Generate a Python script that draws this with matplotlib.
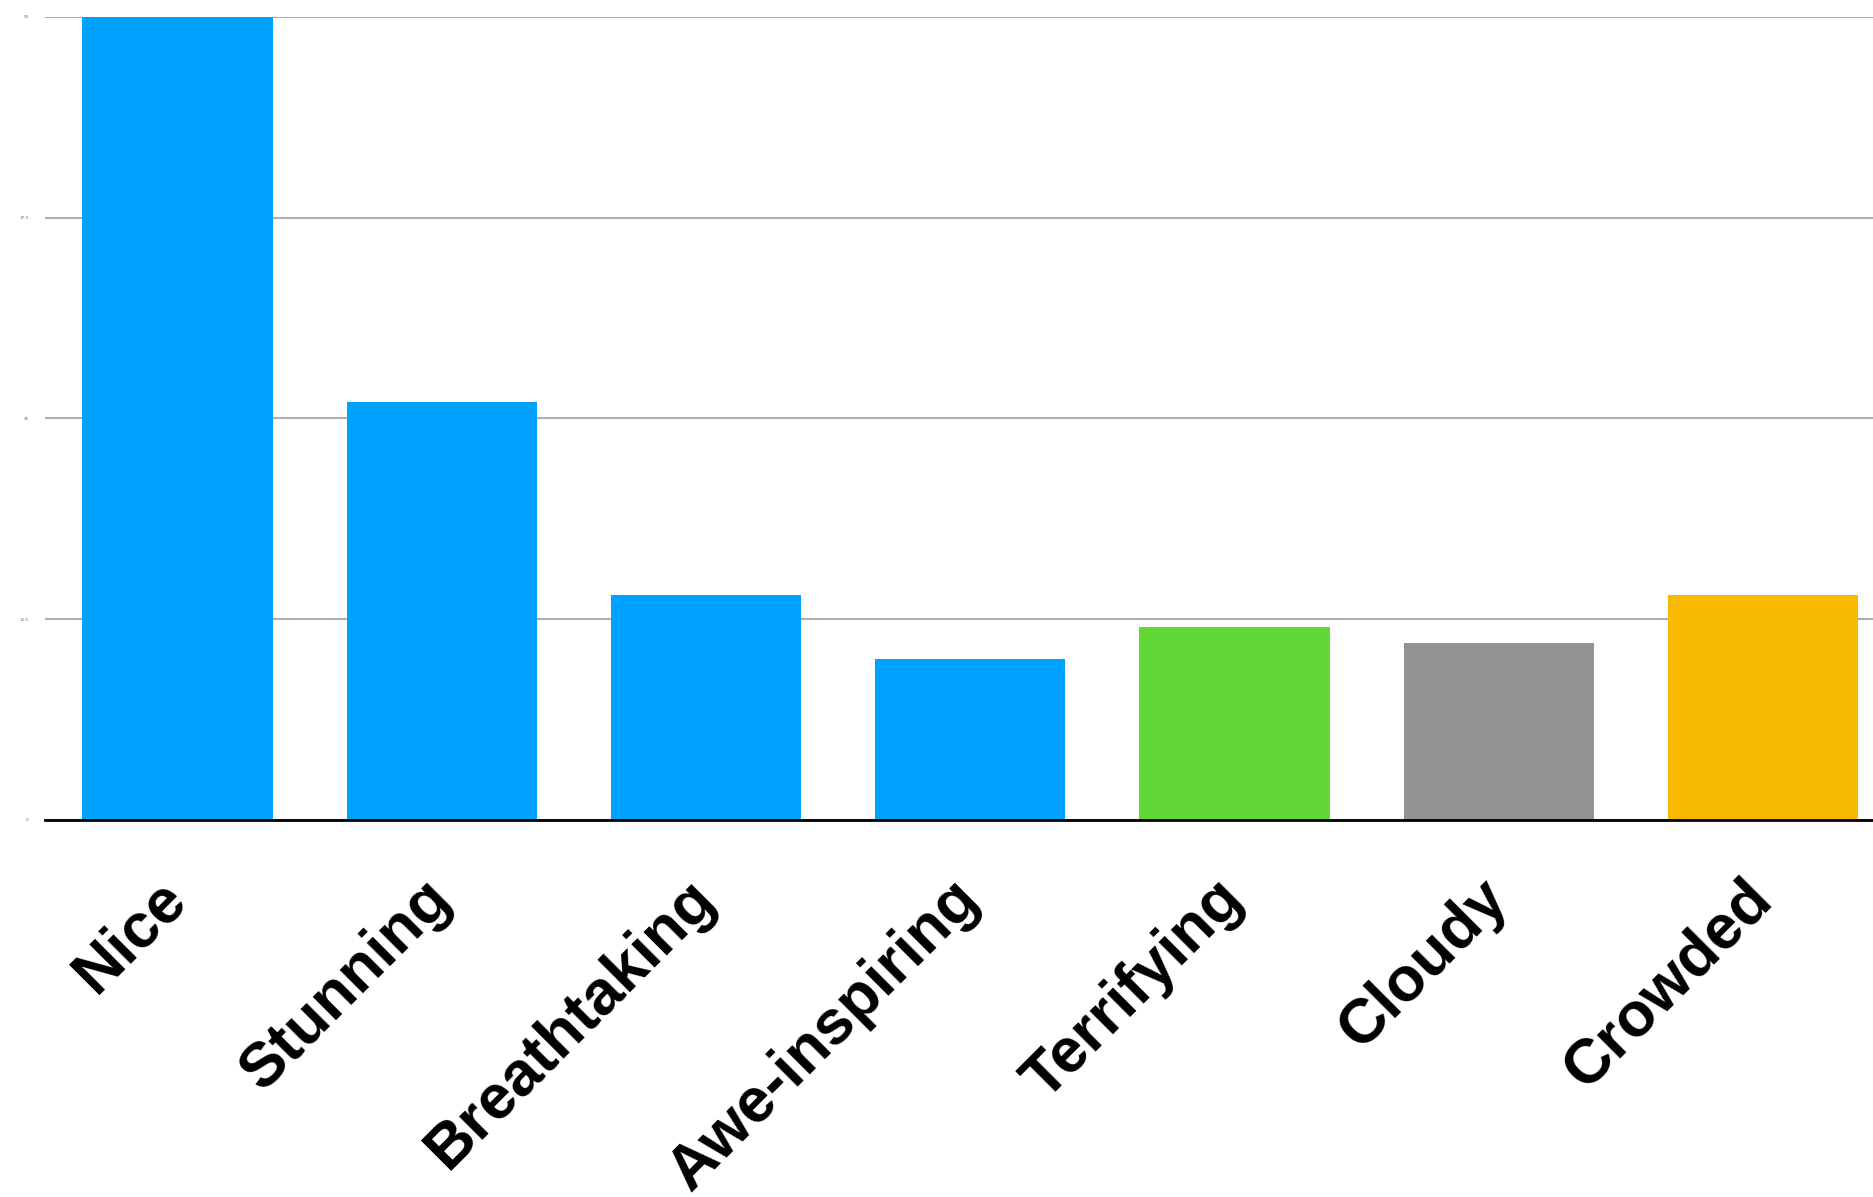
import numpy as np
import matplotlib.pyplot as plt

# Palabras con que se describió el paisaje (conteos)
palabras = ['Nice', 'Stunning', 'Breathtaking', 'Awe-inspiring', 'Terrifying', 'Cloudy', 'Crowded']
conteos = [50, 26, 14, 10, 12, 11, 14]
colores = ['#00A2FF', '#00A2FF', '#00A2FF', '#00A2FF', '#61D836', '#929292', '#F8BA00']
y_ticks = [0, 12.5, 25, 37.5, 50]

fig = plt.figure(figsize=(18.74, 11.97), dpi=100)
ax = fig.add_axes([0.0242, 0.315, 0.9758, 0.671])

x = np.arange(len(palabras))
ax.bar(x, conteos, width=0.72, color=colores, zorder=2)

ax.set_xlim(-0.5, 6.42)
ax.set_ylim(0, 50)
ax.set_yticks(y_ticks)
ax.set_yticklabels([f'{v:g}' for v in y_ticks], fontsize=3, color='#666666')
ax.yaxis.grid(True, color='#AFAFAF', linewidth=1.5, zorder=0)
ax.tick_params(axis='y', length=0, pad=12)
ax.tick_params(axis='x', length=0, pad=50)

ax.set_xticks(x)
ax.set_xticklabels(palabras, rotation=45, ha='right', va='center',
                   rotation_mode='anchor', fontsize=45, fontweight='heavy',
                   family='Liberation Sans')

for lado in ['left', 'right', 'top']:
    ax.spines[lado].set_visible(False)
ax.spines['bottom'].set_color('black')
ax.spines['bottom'].set_linewidth(2)
ax.spines['bottom'].set_zorder(3)

plt.savefig('out.png', dpi=100)
